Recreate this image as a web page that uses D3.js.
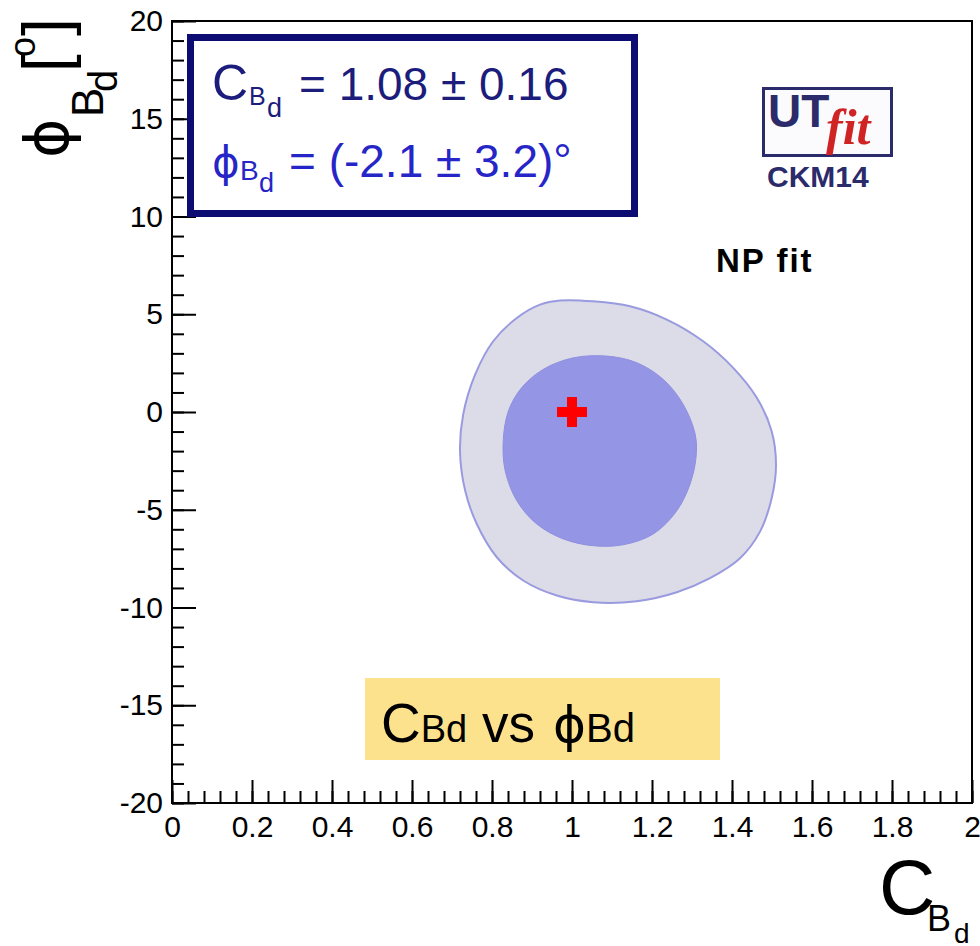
<!DOCTYPE html>
<html>
<head>
<meta charset="utf-8">
<script src="https://cdn.jsdelivr.net/npm/d3@7"></script>
<style>
  body { margin: 0; background: #fff; }
  text { font-family: "Liberation Sans", Arial, sans-serif; }
  .phi { font-family: "DejaVu Sans", sans-serif; }
</style>
</head>
<body>
<svg width="980" height="946"></svg>
<script>
// 95% region (outer contour)
var outerC   = [0.97, 1.053, 1.145, 1.237, 1.328, 1.403, 1.462, 1.499, 1.51, 1.499, 1.47, 1.42, 1.345, 1.262, 1.162, 1.053, 0.962, 0.878, 0.812, 0.762, 0.733, 0.72, 0.728, 0.758, 0.803, 0.862, 0.92];
var outerPhi = [5.70, 5.66, 5.41, 4.73, 3.62, 2.26, 0.73, -0.97, -2.72, -4.42, -6.12, -7.48, -8.5, -9.22, -9.68, -9.73, -9.39, -8.62, -7.43, -5.73, -4.03, -1.99, -0.12, 1.92, 3.62, 4.81, 5.49];
// 68% region (inner contour)
var innerC   = [1.087, 1.162, 1.228, 1.278, 1.308, 1.31, 1.295, 1.262, 1.203, 1.128, 1.053, 0.978, 0.912, 0.862, 0.833, 0.828, 0.841, 0.874, 0.928, 1.003];
var innerPhi = [2.86, 2.52, 1.67, 0.39, -1.14, -2.33, -3.69, -5.05, -6.24, -6.79, -6.84, -6.49, -5.73, -4.54, -3.01, -1.48, 0.05, 1.24, 2.18, 2.77];
// SM point
var bestC   = [1];
var bestPhi = [0];

var xTicks      = [0, 0.2, 0.4, 0.6, 0.8, 1, 1.2, 1.4, 1.6, 1.8, 2];
var xTickLabels = ["0", "0.2", "0.4", "0.6", "0.8", "1", "1.2", "1.4", "1.6", "1.8", "2"];
var yTicks      = [-20, -15, -10, -5, 0, 5, 10, 15, 20];
var yTickLabels = ["-20", "-15", "-10", "-5", "0", "5", "10", "15", "20"];

var PHI = "\u03d5";

var svg = d3.select("svg");

var padL = 172, padR = 972, padT = 21, padB = 803;

var x = d3.scaleLinear().domain([0, 2]).range([padL, padR]);
var y = d3.scaleLinear().domain([-20, 20]).range([padB, padT]);

svg.append("rect").attr("width", 980).attr("height", 946).attr("fill", "#fff");

// contours
var line = d3.line()
    .x(function (d) { return x(d[0]); })
    .y(function (d) { return y(d[1]); })
    .curve(d3.curveCatmullRomClosed);

svg.append("path")
    .datum(d3.zip(outerC, outerPhi))
    .attr("d", line)
    .attr("fill", "#dcdce8")
    .attr("stroke", "#9a9ae0")
    .attr("stroke-width", 2);

svg.append("path")
    .datum(d3.zip(innerC, innerPhi))
    .attr("d", line)
    .attr("fill", "#9595e5")
    .attr("stroke", "#9090e0")
    .attr("stroke-width", 1);

// red cross
var cross = svg.append("g").selectAll("g")
    .data(d3.zip(bestC, bestPhi))
    .enter().append("g")
    .attr("transform", function (d) { return "translate(" + x(d[0]) + "," + y(d[1]) + ")"; })
    .attr("fill", "#ff0000");
cross.append("rect").attr("x", -15).attr("y", -5).attr("width", 30).attr("height", 10);
cross.append("rect").attr("x", -5).attr("y", -15).attr("width", 10).attr("height", 30);

// axes
function xMinor() {
    var v = [];
    for (var i = 0; i <= 50; i++) v.push(i * 0.04);
    return v;
}
function yMinor() {
    var v = [];
    for (var i = -20; i <= 20; i++) v.push(i);
    return v;
}

var gx = svg.append("g").attr("transform", "translate(0," + padB + ")");
gx.append("g").call(d3.axisBottom(x).tickValues(xMinor()).tickFormat("").tickSizeInner(-12).tickSizeOuter(0));
gx.append("g").call(d3.axisBottom(x).tickValues(xTicks)
    .tickFormat(function (d, i) { return xTickLabels[i]; })
    .tickSizeInner(-23).tickSizeOuter(0).tickPadding(13));

var gy = svg.append("g").attr("transform", "translate(" + padL + ",0)");
gy.append("g").call(d3.axisLeft(y).tickValues(yMinor()).tickFormat("").tickSizeInner(-12).tickSizeOuter(0));
gy.append("g").call(d3.axisLeft(y).tickValues(yTicks)
    .tickFormat(function (d, i) { return yTickLabels[i]; })
    .tickSizeInner(-24).tickSizeOuter(0).tickPadding(9));

svg.selectAll(".tick line").attr("stroke", "#000").attr("stroke-width", 2);
svg.selectAll(".domain").attr("stroke", "none");
svg.selectAll(".tick text")
    .attr("font-family", "Liberation Sans, Arial, sans-serif")
    .attr("font-size", 30)
    .attr("fill", "#000");

// frame
svg.append("rect")
    .attr("x", padL).attr("y", padT)
    .attr("width", padR - padL).attr("height", padB - padT)
    .attr("fill", "none").attr("stroke", "#000").attr("stroke-width", 2);

// helper for text with sub/superscripts: parts = [[text, size, x or null, baseline y, class]]
function rich(g, parts, attrs) {
    var t = g.append("text");
    for (var k in attrs) t.attr(k, attrs[k]);
    parts.forEach(function (p) {
        var s = t.append("tspan").text(p[0]).attr("font-size", p[1]).attr("y", p[3]);
        if (p[2] !== null) s.attr("x", p[2]);
        if (p[4]) s.attr("class", p[4]);
    });
    return t;
}

// result box
svg.append("rect")
    .attr("x", 190.5).attr("y", 37.5).attr("width", 444).attr("height", 176)
    .attr("fill", "#fff").attr("stroke", "#0c0c72").attr("stroke-width", 7);

rich(svg, [["C", 50, 212, 100], ["B", 25, 249, 105], ["d", 27, 267, 117],
           ["= 1.08 \u00b1 0.16", 46, 299, 100]], {fill: "#1c1c7c"});
rich(svg, [[PHI, 42, 212, 177, "phi"], ["B", 28, 240, 180], ["d", 27, 259, 192],
           ["= (-2.1 \u00b1 3.2)\u00b0", 46, 289, 177]], {fill: "#2626c8"});

// UTfit logo
svg.append("rect")
    .attr("x", 763.5).attr("y", 88.5).attr("width", 128).attr("height", 67)
    .attr("fill", "#fbfbfe").attr("stroke", "#2b2b6b").attr("stroke-width", 3);
svg.append("text").attr("x", 768).attr("y", 127)
    .attr("font-size", 46).attr("font-weight", "bold").attr("fill", "#2b2b6b").text("UT");
svg.append("text").attr("x", 826).attr("y", 144)
    .style("font-family", "Liberation Serif, Times New Roman, serif")
    .attr("font-size", 50).attr("font-weight", "bold").attr("font-style", "italic")
    .attr("fill", "#d02424").text("fit");
svg.append("text").attr("x", 767).attr("y", 187)
    .attr("font-size", 30).attr("font-weight", "bold").attr("fill", "#2b2b6b").text("CKM14");

svg.append("text").attr("x", 716).attr("y", 272)
    .attr("font-size", 33).attr("font-weight", "bold").attr("letter-spacing", 2)
    .attr("fill", "#000").text("NP fit");

// yellow label
svg.append("rect")
    .attr("x", 365).attr("y", 678).attr("width", 355).attr("height", 82)
    .attr("fill", "#fde28e");
rich(svg, [["C", 55, 381, 742], ["Bd", 38, null, 742], [" vs", 53, null, 742],
           [PHI, 50, 553, 742, "phi"], ["Bd", 40, null, 742]], {fill: "#000"});

// x title
rich(svg, [["C", 78, 879, 914], ["B", 36, 927, 931], ["d", 28, 954, 943]], {fill: "#000"});

// y title (rotated)
var yt = svg.append("g").attr("transform", "translate(68,158) rotate(-90)");
rich(yt, [[PHI, 60, 0, 0, "phi"], ["B", 44, 41, 35], ["d", 40, 66, 49],
          ["[", 64, 86, 0], ["o", 36, 101, -33], ["]", 64, 122, 0]], {fill: "#000"});
</script>
</body>
</html>
